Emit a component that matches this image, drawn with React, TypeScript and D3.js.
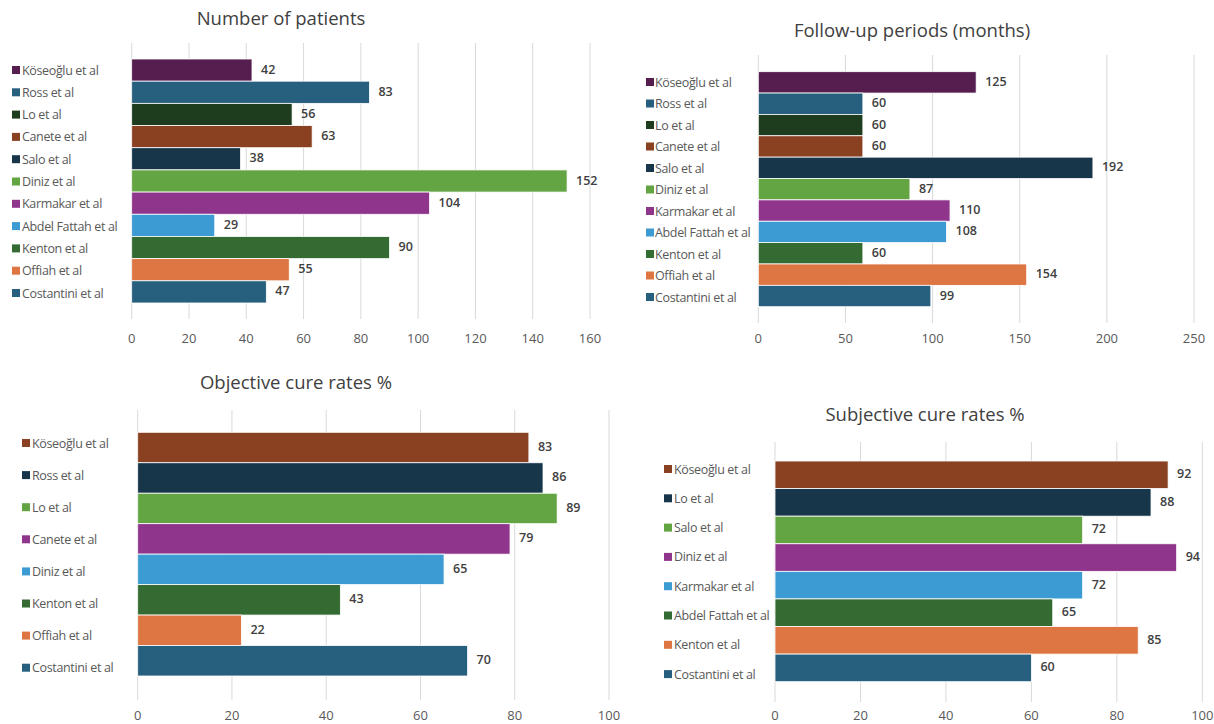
import React from "react";
import * as d3 from "d3";

// ---------- data ----------
const patientsNames = ["Köseoğlu et al", "Ross et al", "Lo et al", "Canete et al", "Salo et al", "Diniz et al", "Karmakar et al", "Abdel Fattah et al", "Kenton et al", "Offiah et al", "Costantini et al"];
const patientsValues = [42, 83, 56, 63, 38, 152, 104, 29, 90, 55, 47];
const patientsTicks = [0, 20, 40, 60, 80, 100, 120, 140, 160];

const followNames = ["Köseoğlu et al", "Ross et al", "Lo et al", "Canete et al", "Salo et al", "Diniz et al", "Karmakar et al", "Abdel Fattah et al", "Kenton et al", "Offiah et al", "Costantini et al"];
const followValues = [125, 60, 60, 60, 192, 87, 110, 108, 60, 154, 99];
const followTicks = [0, 50, 100, 150, 200, 250];

const objectiveNames = ["Köseoğlu et al", "Ross et al", "Lo et al", "Canete et al", "Diniz et al", "Kenton et al", "Offiah et al", "Costantini et al"];
const objectiveValues = [83, 86, 89, 79, 65, 43, 22, 70];
const objectiveTicks = [0, 20, 40, 60, 80, 100];

const subjectiveNames = ["Köseoğlu et al", "Lo et al", "Salo et al", "Diniz et al", "Karmakar et al", "Abdel Fattah et al", "Kenton et al", "Costantini et al"];
const subjectiveValues = [92, 88, 72, 94, 72, 65, 85, 60];
const subjectiveTicks = [0, 20, 40, 60, 80, 100];

// ---------- colours ----------
const PLUM = "#561d4f";
const TEAL = "#275f7e";
const DKGREEN = "#1e3d1f";
const BROWN = "#8a4122";
const NAVY = "#17364a";
const GREEN = "#63a443";
const PURPLE = "#8f368c";
const LBLUE = "#3c9bd3";
const MGREEN = "#336b32";
const ORANGE = "#dd7642";

const patientsColors = [PLUM, TEAL, DKGREEN, BROWN, NAVY, GREEN, PURPLE, LBLUE, MGREEN, ORANGE, TEAL];
const followColors = [PLUM, TEAL, DKGREEN, BROWN, NAVY, GREEN, PURPLE, LBLUE, MGREEN, ORANGE, TEAL];
const objectiveColors = [BROWN, NAVY, GREEN, PURPLE, LBLUE, MGREEN, ORANGE, TEAL];
const subjectiveColors = [BROWN, NAVY, GREEN, PURPLE, LBLUE, MGREEN, ORANGE, TEAL];

const FONT = "'Open Sans', 'Noto Sans', sans-serif";

type PanelProps = {
  title: string;
  names: string[];
  values: number[];
  colors: string[];
  ticks: number[];
  layout: {
    x0: number; x1: number;
    barTop: number; barBottom: number;
    gridTop: number; gridBottom: number;
    tickY: number;
    titleX: number; titleY: number;
    legSqX: number; legTextX: number; legY0: number; legStep: number;
  };
};

function Panel({ title, names, values, colors, ticks, layout: L }: PanelProps) {
  const x = d3.scaleLinear().domain([ticks[0], ticks[ticks.length - 1]]).range([L.x0, L.x1]);
  const y = d3.scaleBand<string>().domain(names).range([L.barTop, L.barBottom]).padding(0);
  const bw = y.bandwidth();
  return (
    <g>
      <text x={L.titleX} y={L.titleY} textAnchor="middle" fontSize={18.5} fill="#404040" fontFamily={FONT}>{title}</text>
      {ticks.map((t) => (
        <line key={"g" + t} x1={x(t)} x2={x(t)} y1={L.gridTop} y2={L.gridBottom} stroke="#d9d9d9" strokeWidth={1} />
      ))}
      {ticks.map((t) => (
        <text key={"t" + t} x={x(t)} y={L.tickY} textAnchor="middle" dominantBaseline="central" fontSize={13} fill="#595959" fontFamily={FONT}>{t}</text>
      ))}
      {names.map((n, i) => (
        <rect key={"b" + i} x={x(0)} y={y(n)} width={x(values[i]) - x(0)} height={bw} fill={colors[i]} stroke="#ffffff" strokeWidth={0.8} />
      ))}
      {names.map((n, i) => (
        <text key={"v" + i} x={x(values[i]) + 9} y={(y(n) as number) + bw / 2 - 1} dominantBaseline="central" fontSize={12.5} fontWeight={600} fill="#404040" fontFamily={FONT}>{values[i]}</text>
      ))}
      {names.map((n, i) => {
        const cy = L.legY0 + i * L.legStep;
        return (
          <g key={"l" + i}>
            <rect x={L.legSqX} y={cy - 4} width={8} height={8} fill={colors[i]} />
            <text x={L.legTextX} y={cy} dominantBaseline="central" fontSize={12.5} fill="#595959" fontFamily={FONT} letterSpacing={-0.35}>{n}</text>
          </g>
        );
      })}
    </g>
  );
}

export default function App() {
  return (
    <svg width={1214} height={724} style={{ position: "absolute", left: 0, top: 0, background: "#fff" }}>
      <rect x={0} y={0} width={1214} height={724} fill="#ffffff" />
      <Panel
        title="Number of patients"
        names={patientsNames}
        values={patientsValues}
        colors={patientsColors}
        ticks={patientsTicks}
        layout={{ x0: 131.7, x1: 590, barTop: 59, barBottom: 303, gridTop: 43, gridBottom: 319, tickY: 338, titleX: 281, titleY: 25, legSqX: 12, legTextX: 22, legY0: 70, legStep: 22.3 }}
      />
      <Panel
        title="Follow-up periods (months)"
        names={followNames}
        values={followValues}
        colors={followColors}
        ticks={followTicks}
        layout={{ x0: 758.3, x1: 1194, barTop: 71.7, barBottom: 306.7, gridTop: 55, gridBottom: 323, tickY: 338, titleX: 912, titleY: 37, legSqX: 646, legTextX: 655, legY0: 82, legStep: 21.5 }}
      />
      <Panel
        title="Objective cure rates %"
        names={objectiveNames}
        values={objectiveValues}
        colors={objectiveColors}
        ticks={objectiveTicks}
        layout={{ x0: 137.7, x1: 609, barTop: 432.3, barBottom: 676, gridTop: 410, gridBottom: 700, tickY: 715, titleX: 296, titleY: 389, legSqX: 22, legTextX: 32, legY0: 443, legStep: 32.1 }}
      />
      <Panel
        title="Subjective cure rates %"
        names={subjectiveNames}
        values={subjectiveValues}
        colors={subjectiveColors}
        ticks={subjectiveTicks}
        layout={{ x0: 775, x1: 1202.3, barTop: 461, barBottom: 681.7, gridTop: 442, gridBottom: 702, tickY: 715, titleX: 925, titleY: 421, legSqX: 664, legTextX: 674, legY0: 469, legStep: 29.3 }}
      />
    </svg>
  );
}
